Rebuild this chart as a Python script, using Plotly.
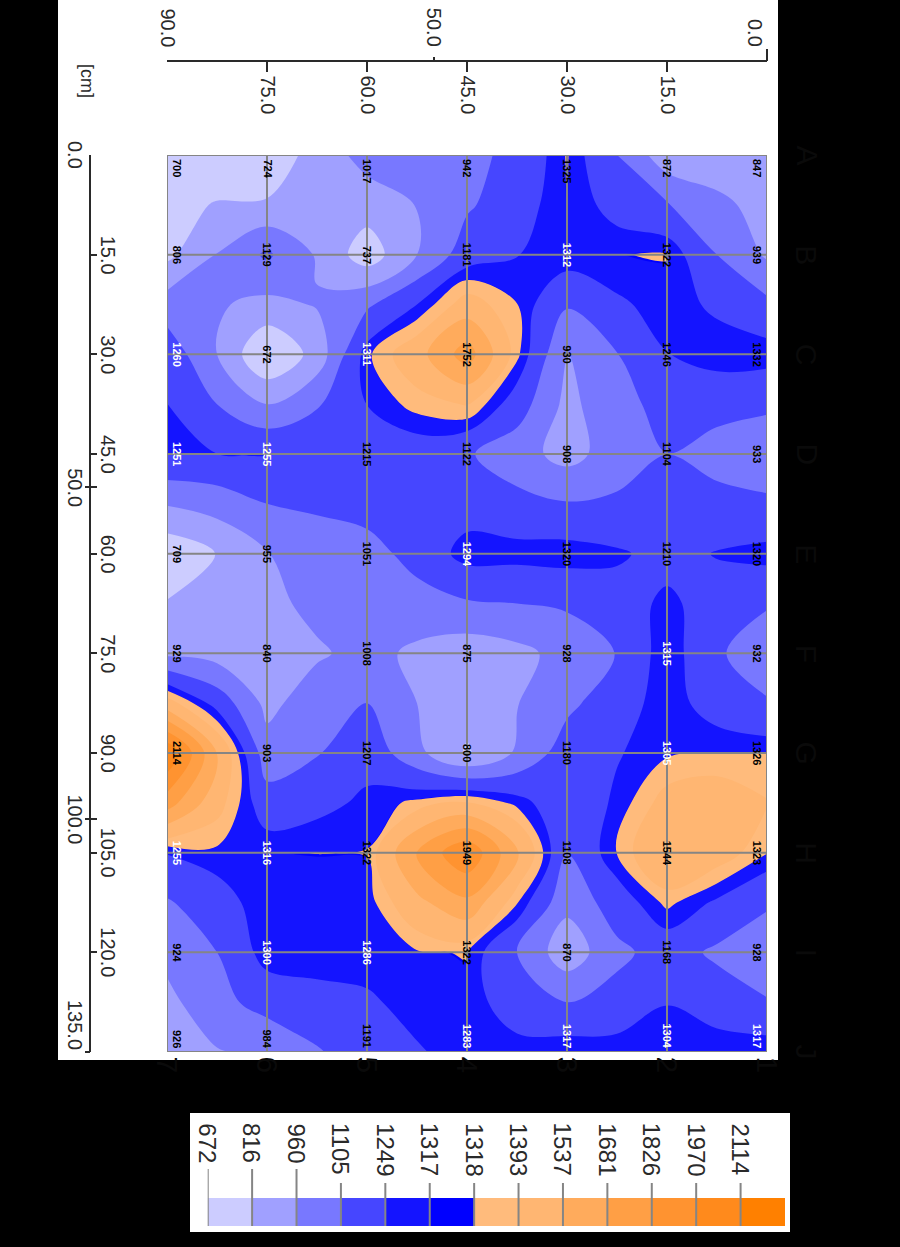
import plotly.graph_objects as go

W, H = 900, 1247
# Printed measurement labels (grid intersections)
X_CM = [0, 15, 30, 45, 60, 75, 90]
Y_CM = [0, 15, 30, 45, 60, 75, 90, 105, 120, 135]
ROW_A = [847, 872, 1325, 942, 1017, 724, 700]
ROW_B = [939, 1322, 1312, 1181, 737, 1129, 806]
ROW_C = [1332, 1246, 930, 1752, 1311, 672, 1260]
ROW_D = [933, 1104, 908, 1122, 1215, 1255, 1251]
ROW_E = [1320, 1210, 1320, 1294, 1051, 955, 709]
ROW_F = [932, 1315, 928, 875, 1008, 840, 929]
ROW_G = [1326, 1305, 1180, 800, 1207, 903, 2114]
ROW_H = [1323, 1544, 1108, 1949, 1322, 1316, 1255]
ROW_I = [928, 1168, 870, 1322, 1286, 1300, 924]
ROW_J = [1317, 1304, 1317, 1283, 1191, 984, 926]
LABELS = [ROW_A, ROW_B, ROW_C, ROW_D, ROW_E, ROW_F, ROW_G, ROW_H, ROW_I, ROW_J]

FIELD_X = [0, 7.5, 15, 22.5, 30, 37.5, 45, 52.5, 60, 67.5, 75, 82.5, 90]
FIELD_Y = [0, 7.5, 15, 22.5, 30, 37.5, 45, 52.5, 60, 67.5, 75, 82.5, 90, 97.5, 105, 112.5, 120, 127.5, 135]
F00 = [847, 860, 872, 1105, 1325, 1138, 1070, 1040, 1017, 870, 724, 715, 700]
F01 = [900, 1000, 1115, 1200, 1319, 1190, 1085, 965, 880, 840, 830, 825, 770]
F02 = [940, 1105, 1322, 1316, 1312, 1245, 1181, 960, 737, 945, 1129, 965, 780]
F03 = [1140, 1230, 1290, 1230, 1120, 1320, 1450, 1249, 1080, 970, 920, 975, 1030]
F04 = [1300, 1295, 1246, 1100, 950, 1340, 1752, 1480, 1300, 870, 672, 960, 1200]
F05 = [1120, 1160, 1150, 1060, 920, 1180, 1400, 1350, 1250, 1090, 960, 1105, 1250]
F06 = [1050, 1040, 1104, 1030, 908, 1020, 1122, 1180, 1215, 1220, 1255, 1250, 1251]
F07 = [1120, 1160, 1170, 1130, 1115, 1150, 1190, 1200, 1160, 1130, 1105, 1020, 970]
F08 = [1290, 1255, 1210, 1265, 1300, 1290, 1294, 1155, 1051, 1020, 955, 820, 709]
F09 = [1115, 1200, 1270, 1200, 1125, 1105, 1090, 1050, 1030, 1000, 920, 880, 825]
F10 = [1040, 1120, 1315, 1110, 1010, 920, 875, 930, 1008, 940, 880, 900, 929]
F11 = [1115, 1190, 1300, 1190, 1070, 955, 870, 960, 1105, 1040, 920, 1200, 1450]
F12 = [1317, 1317, 1305, 1240, 1180, 980, 800, 1000, 1207, 1095, 1020, 1534, 2114]
F13 = [1400, 1480, 1440, 1270, 1150, 1295, 1400, 1340, 1270, 1215, 1170, 1440, 1750]
F14 = [1322, 1460, 1544, 1320, 1108, 1550, 1949, 1700, 1322, 1318.5, 1316, 1300, 1255]
F15 = [1125, 1230, 1340, 1180, 1000, 1325, 1650, 1500, 1280, 1300, 1312, 1190, 1090]
F16 = [1010, 1080, 1168, 1070, 870, 1105, 1322, 1310, 1286, 1295, 1300, 1105, 1000]
F17 = [1115, 1180, 1245, 1160, 1105, 1180, 1300, 1280, 1235, 1210, 1160, 1060, 920]
F18 = [1317, 1310, 1304, 1300, 1317, 1290, 1283, 1240, 1191, 1090, 984, 950, 926]
FIELD = [F00, F01, F02, F03, F04, F05, F06, F07, F08, F09, F10, F11, F12, F13, F14, F15, F16, F17, F18]

LEVELS = [672, 816, 960, 1105, 1249, 1317, 1318, 1393, 1537, 1681, 1826, 1970, 2114]
COLORS = ["#ccccff", "#a0a0ff", "#7878ff", "#4646ff", "#1414ff", "#0000ff",
          "#ffbb7c", "#ffb672", "#ffab5c", "#ff9f45", "#ff9330", "#ff8a1c", "#ff8000"]
ROW_LETTERS = list("ABCDEFGHIJ")
COL_DIGITS = ["1", "2", "3", "4", "5", "6", "7"]
TOP_INNER = [15, 30, 45, 60, 75]
TOP_OUTER = [0, 50, 90]
LEFT_INNER = [15, 30, 45, 60, 75, 90, 105, 120]
LEFT_OUTER = [0, 50, 100, 135]

PX_L, PX_R, PX_T, PX_B = 167, 767, 155, 1052
GRAY = "#858585"
INK = "#2a2a2a"
FONT = "Liberation Sans"


def fx(px):
    return px / W


def fy(px):
    return 1 - px / H


fig = go.Figure()

for k, (lev, col) in enumerate(zip(LEVELS, COLORS)):
    fig.add_trace(go.Contour(
        x=FIELD_X, y=FIELD_Y, z=FIELD, xaxis="x", yaxis="y", showscale=False, hoverinfo="skip",
        contours=dict(type="constraint", operation="<", value=lev - 1 if k == 0 else lev,
                      showlines=False, showlabels=False),
        fillcolor=col, line=dict(width=0, smoothing=1.0),
    ))

grid_x, grid_y = [], []
for v in X_CM:
    grid_x += [v, v, None]
    grid_y += [Y_CM[0], Y_CM[-1], None]
for v in Y_CM:
    grid_x += [X_CM[0], X_CM[-1], None]
    grid_y += [v, v, None]
fig.add_trace(go.Scatter(x=grid_x, y=grid_y, mode="lines", xaxis="x", yaxis="y", hoverinfo="skip",
                         line=dict(color=GRAY, width=2), showlegend=False, cliponaxis=False))

# carriers so the free axes are drawn
fig.add_trace(go.Scatter(x=[0], y=[0], xaxis="x2", yaxis="y", mode="markers", marker=dict(opacity=0), showlegend=False, hoverinfo="skip"))
fig.add_trace(go.Scatter(x=[0], y=[0], xaxis="x3", yaxis="y", mode="markers", marker=dict(opacity=0), showlegend=False, hoverinfo="skip"))
fig.add_trace(go.Scatter(x=[0], y=[0], xaxis="x", yaxis="y2", mode="markers", marker=dict(opacity=0), showlegend=False, hoverinfo="skip"))
fig.add_trace(go.Scatter(x=[0], y=[0], xaxis="x", yaxis="y3", mode="markers", marker=dict(opacity=0), showlegend=False, hoverinfo="skip"))

# legend swatches
idx = list(range(len(LEVELS)))
fig.add_trace(go.Bar(x=idx, y=[28] * len(idx), base=[29] * len(idx), width=1, xaxis="x4", yaxis="y4",
                     marker=dict(color=COLORS, line=dict(width=0)), showlegend=False, hoverinfo="skip"))
tx, ty = [], []
for i in idx:
    tx += [i - 0.5, i - 0.5, None]
    ty += [0 if i < 3 else 14, 57, None]
fig.add_trace(go.Scatter(x=tx, y=ty, mode="lines", xaxis="x4", yaxis="y4", line=dict(color=GRAY, width=2),
                         showlegend=False, hoverinfo="skip", cliponaxis=False))

ann = []
WHITE_LABEL_MIN, WHITE_LABEL_MAX = 1249, 1318
for j, yv in enumerate(Y_CM):
    for i, xv in enumerate(X_CM):
        v = LABELS[j][i]
        col = "white" if (WHITE_LABEL_MIN <= v < WHITE_LABEL_MAX) else "black"
        ann.append(dict(x=xv, y=yv, xref="x", yref="y", text=f"<b>{v}</b>", textangle=90, showarrow=False,
                        font=dict(family=FONT, size=11, color=col),
                        xanchor="right" if i == 0 else ("left" if i == len(X_CM) - 1 else "center"),
                        yanchor="top" if j == 0 else ("bottom" if j == len(Y_CM) - 1 else "middle"),
                        xshift=-2 if i == 0 else (2 if i == len(X_CM) - 1 else 0),
                        yshift=-2 if j == 0 else (2 if j == len(Y_CM) - 1 else 0)))

for v in TOP_INNER:
    ann.append(dict(x=v, xref="x2", y=fy(73), yref="paper", text=f"{v:.1f}", textangle=90, showarrow=False,
                    yanchor="top", xanchor="center", font=dict(family=FONT, size=20, color=INK)))
for v in TOP_OUTER:
    ann.append(dict(x=v, xref="x2", y=fy(49), yref="paper", text=f"{v:.1f}", textangle=90, showarrow=False,
                    yanchor="bottom", xanchor="center", xshift=-12 if v == 0 else 0,
                    font=dict(family=FONT, size=20, color=INK)))
for v in LEFT_INNER:
    ann.append(dict(y=v, yref="y", x=fx(108), xref="paper", text=f"{v:.1f}", textangle=90, showarrow=False,
                    yanchor="middle", xanchor="center", font=dict(family=FONT, size=20, color=INK)))
for v in LEFT_OUTER:
    ann.append(dict(y=v, yref="y", x=fx(75), xref="paper", text=f"{v:.1f}", textangle=90, showarrow=False,
                    yanchor="bottom" if v == 135 else "middle", xanchor="center",
                    font=dict(family=FONT, size=20, color=INK)))
ann.append(dict(x=fx(75), y=fy(62), xref="paper", yref="paper", text="[cm]", textangle=90, showarrow=False,
                font=dict(family=FONT, size=18, color=INK)))
for j, t in enumerate(ROW_LETTERS):
    ann.append(dict(y=Y_CM[j], yref="y", x=fx(825), xref="paper", text=t, textangle=90, showarrow=False,
                    font=dict(family=FONT, size=30, color="#0a0a0a")))
for i, t in enumerate(COL_DIGITS):
    ann.append(dict(x=X_CM[i], xref="x", y=fy(1075), yref="paper", text=t, textangle=90, showarrow=False,
                    font=dict(family=FONT, size=30, color="#0a0a0a")))
for i, lev in enumerate(LEVELS):
    ann.append(dict(x=i - 0.5, xref="x4", y=fy(1121), yref="paper", text=str(lev), textangle=90, showarrow=False,
                    yanchor="top", xanchor="center", font=dict(family=FONT, size=24, color=INK)))

dom_x = [fx(PX_L), fx(PX_R)]
dom_y = [fy(PX_B), fy(PX_T)]
line = dict(showline=True, linecolor=INK, linewidth=2, showgrid=False, zeroline=False)
fig.update_layout(
    width=W, height=H, margin=dict(l=0, r=0, t=0, b=0), paper_bgcolor="black", plot_bgcolor="rgba(0,0,0,0)",
    showlegend=False, barmode="overlay", annotations=ann,
    shapes=[
        dict(type="rect", xref="paper", yref="paper", layer="below", x0=fx(58), x1=fx(778), y0=fy(1060), y1=fy(0),
             fillcolor="white", line=dict(width=0)),
        dict(type="rect", xref="paper", yref="paper", layer="below", x0=fx(190), x1=fx(790), y0=fy(1232), y1=fy(1113),
             fillcolor="white", line=dict(width=0)),
    ],
    xaxis=dict(domain=dom_x, range=[90, 0], visible=False, anchor="y"),
    yaxis=dict(domain=dom_y, range=[135, 0], visible=False, anchor="x"),
    xaxis2=dict(domain=dom_x, range=[90, 0], overlaying="x", anchor="free", position=fy(61), side="top",
                tickmode="array", tickvals=X_CM, ticktext=[""] * 7, ticks="inside", ticklen=10, tickwidth=2,
                tickcolor=INK, showticklabels=False, **line),
    xaxis3=dict(domain=dom_x, range=[90, 0], overlaying="x", anchor="free", position=fy(61), side="top",
                tickmode="array", tickvals=[0], ticks="outside", ticklen=12, tickwidth=2, tickcolor=INK,
                showticklabels=False, showline=False, showgrid=False, zeroline=False,
                minor=dict(tickmode="array", tickvals=[50], ticks="outside", ticklen=4, tickwidth=2, tickcolor=INK)),
    yaxis2=dict(domain=dom_y, range=[135, 0], overlaying="y", anchor="free", position=fx(90), side="left",
                tickmode="array", tickvals=[0, 135], ticks="inside", ticklen=12, tickwidth=2, tickcolor=INK,
                showticklabels=False, **line,
                minor=dict(tickmode="array", tickvals=LEFT_INNER + [50, 100], ticks="inside", ticklen=6, tickwidth=2, tickcolor=INK)),
    yaxis3=dict(domain=dom_y, range=[135, 0], overlaying="y", anchor="free", position=fx(90), side="left",
                tickmode="array", tickvals=[50, 100, 135], ticks="outside", ticklen=5, tickwidth=2, tickcolor=INK,
                showticklabels=False, showline=False, showgrid=False, zeroline=False),
    xaxis4=dict(domain=[fx(207.7), fx(785)], range=[-0.5, 12.5], visible=False, anchor="y4"),
    yaxis4=dict(domain=[fy(1226), fy(1169)], range=[57, 0], visible=False, anchor="x4"),
)
fig.write_html("out.html", config={"displayModeBar": False},
               post_script="document.body.style.margin='0';document.body.style.background='black';")
